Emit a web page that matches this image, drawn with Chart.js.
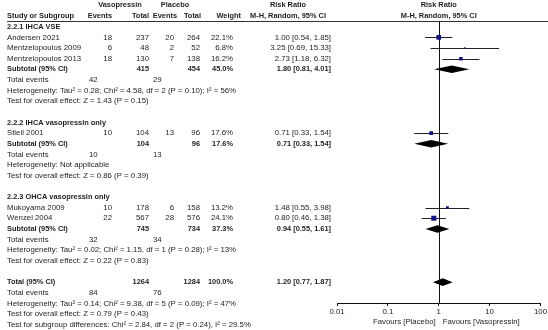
<!DOCTYPE html>
<html lang="en">
<head>
<meta charset="UTF-8">
<title>Vasopressin vs placebo - forest plot</title>
<script src="https://cdn.jsdelivr.net/npm/chart.js"></script>
<style>
    body { margin: 0; background: #fff; }
    canvas { display: block; }
</style>
</head>
<body>
<canvas id="forest" width="548" height="330"></canvas>
<script>
// --- data ---
const groupTitles = ['2.2.1 IHCA VSE', '2.2.2 IHCA vasopressin only', '2.2.3 OHCA vasopressin only'];

const studies     = ['Andersen 2021', 'Mentzelopoulos 2009', 'Mentzelopoulos 2013', 'Stiell 2001', 'Mukoyama 2009', 'Wenzel 2004'];
const studyGroup  = [0, 0, 0, 1, 2, 2];
const vasoEvents  = [18, 6, 18, 10, 10, 22];
const vasoTotal   = [237, 48, 130, 104, 178, 567];
const placEvents  = [20, 2, 7, 13, 6, 28];
const placTotal   = [264, 52, 138, 96, 158, 576];
const weights     = [22.1, 6.8, 16.2, 17.6, 13.2, 24.1];
const rr          = [1.00, 3.25, 2.73, 0.71, 1.48, 0.80];
const rrLow       = [0.54, 0.69, 1.18, 0.33, 0.55, 0.46];
const rrHigh      = [1.85, 15.33, 6.32, 1.54, 3.98, 1.38];

// subgroup subtotals
const subVasoTotal  = [415, 104, 745];
const subPlacTotal  = [454, 96, 734];
const subWeight     = [45.0, 17.6, 37.3];
const subRR         = [1.80, 0.71, 0.94];
const subLow        = [0.81, 0.33, 0.55];
const subHigh       = [4.01, 1.54, 1.61];
const subVasoEvents = [42, 10, 32];
const subPlacEvents = [29, 13, 34];
const subHetero = [
    'Heterogeneity: Tau² = 0.28; Chi² = 4.58, df = 2 (P = 0.10); I² = 56%',
    'Heterogeneity: Not applicable',
    'Heterogeneity: Tau² = 0.02; Chi² = 1.15, df = 1 (P = 0.28); I² = 13%'
];
const subOverall = [
    'Test for overall effect: Z = 1.43 (P = 0.15)',
    'Test for overall effect: Z = 0.86 (P = 0.39)',
    'Test for overall effect: Z = 0.22 (P = 0.83)'
];

// pooled total
const totalVaso = 1264, totalPlac = 1284, totalWeight = 100.0;
const totalRR = 1.20, totalLow = 0.77, totalHigh = 1.87;
const totalVasoEvents = 84, totalPlacEvents = 76;
const totalHetero  = 'Heterogeneity: Tau² = 0.14; Chi² = 9.38, df = 5 (P = 0.09); I² = 47%';
const totalOverall = 'Test for overall effect: Z = 0.79 (P = 0.43)';
const subgroupDiff = 'Test for subgroup differences: Chi² = 2.84, df = 2 (P = 0.24), I² = 29.5%';

const xTicks = [0.01, 0.1, 1, 10, 100];
const favourLeft = 'Favours [Placebo]';
const favourRight = 'Favours [Vasopressin]';

// --- layout of the table ---
const FONT = '"Liberation Sans", Arial, sans-serif';
const FS = 7.8;      // regular text
const FSB = 7.4;     // bold text
const TXT = '#1e1e1e';
const cols = {
    name: [7, 'left'], vE: [112, 'right'], vT: [149, 'right'], pE: [174, 'right'], pT: [200, 'right'],
    w: [233, 'right'], ci: [331, 'right'], teV: [89, 'left'], teP: [153, 'left']
};
const ciText = (m, l, h) => `${m.toFixed(2)} [${l.toFixed(2)}, ${h.toFixed(2)}]`;
const pct = v => v.toFixed(1) + '%';

const cells = [];   // {row, text, col, bold}
const put = (row, col, text, bold) => cells.push({ row, col, text: String(text), bold: !!bold });

const studyRow = [], subRow = [];
let r = 2;
groupTitles.forEach((title, g) => {
    put(r++, 'name', title, true);
    studies.forEach((s, i) => {
        if (studyGroup[i] !== g) return;
        studyRow[i] = r;
        put(r, 'name', s); put(r, 'vE', vasoEvents[i]); put(r, 'vT', vasoTotal[i]);
        put(r, 'pE', placEvents[i]); put(r, 'pT', placTotal[i]); put(r, 'w', pct(weights[i]));
        put(r, 'ci', ciText(rr[i], rrLow[i], rrHigh[i]));
        r++;
    });
    subRow[g] = r;
    put(r, 'name', 'Subtotal (95% CI)', true); put(r, 'vT', subVasoTotal[g], true);
    put(r, 'pT', subPlacTotal[g], true); put(r, 'w', pct(subWeight[g]), true);
    put(r, 'ci', ciText(subRR[g], subLow[g], subHigh[g]), true);
    r++;
    put(r, 'name', 'Total events'); put(r, 'teV', subVasoEvents[g]); put(r, 'teP', subPlacEvents[g]); r++;
    put(r++, 'name', subHetero[g]);
    put(r++, 'name', subOverall[g]);
    r++;
});
const totalRow = r;
put(r, 'name', 'Total (95% CI)', true); put(r, 'vT', totalVaso, true); put(r, 'pT', totalPlac, true);
put(r, 'w', pct(totalWeight), true); put(r, 'ci', ciText(totalRR, totalLow, totalHigh), true);
r++;
put(r, 'name', 'Total events'); put(r, 'teV', totalVasoEvents); put(r, 'teP', totalPlacEvents); r++;
put(r++, 'name', totalHetero);
put(r++, 'name', totalOverall);
put(r++, 'name', subgroupDiff);

const headers = [
    { row: 0, x: 120, align: 'center', text: 'Vasopressin' },
    { row: 0, x: 175, align: 'center', text: 'Placebo' },
    { row: 0, x: 288, align: 'center', text: 'Risk Ratio' },
    { row: 0, x: 'one', align: 'center', text: 'Risk Ratio' },
    { row: 1, x: 7, align: 'left', text: 'Study or Subgroup' },
    { row: 1, x: 112, align: 'right', text: 'Events' },
    { row: 1, x: 149, align: 'right', text: 'Total' },
    { row: 1, x: 177, align: 'right', text: 'Events' },
    { row: 1, x: 201, align: 'right', text: 'Total' },
    { row: 1, x: 241, align: 'right', text: 'Weight' },
    { row: 1, x: 288, align: 'center', text: 'M-H, Random, 95% CI' },
    { row: 1, x: 'one', align: 'center', text: 'M-H, Random, 95% CI' }
];

// draws the no-effect line, CI whiskers, diamonds and all table text
const forestPlugin = {
    id: 'forest',
    beforeDatasetsDraw(chart) {
        const { ctx, chartArea, scales: { x, y } } = chart;
        ctx.save();
        ctx.lineWidth = 1;

        // header rule
        ctx.strokeStyle = '#333';
        ctx.beginPath();
        ctx.moveTo(7, Math.round(chartArea.top) + 0.5);
        ctx.lineTo(chart.width, Math.round(chartArea.top) + 0.5);
        ctx.stroke();

        // line of no effect
        const x1 = Math.round(x.getPixelForValue(1)) + 0.5;
        ctx.strokeStyle = '#111';
        ctx.beginPath();
        ctx.moveTo(x1, chartArea.top);
        ctx.lineTo(x1, chartArea.bottom);
        ctx.stroke();

        // confidence intervals
        ctx.strokeStyle = '#222';
        studies.forEach((s, i) => {
            const py = Math.round(y.getPixelForValue(studyRow[i])) + 0.5;
            ctx.beginPath();
            ctx.moveTo(x.getPixelForValue(rrLow[i]), py);
            ctx.lineTo(x.getPixelForValue(rrHigh[i]), py);
            ctx.stroke();
        });

        // pooled diamonds
        const diamond = (row, m, l, h) => {
            const py = y.getPixelForValue(row);
            ctx.beginPath();
            ctx.moveTo(x.getPixelForValue(l), py);
            ctx.lineTo(x.getPixelForValue(m), py - 3.8);
            ctx.lineTo(x.getPixelForValue(h), py);
            ctx.lineTo(x.getPixelForValue(m), py + 3.8);
            ctx.closePath();
            ctx.fill();
        };
        ctx.fillStyle = '#000';
        subRR.forEach((m, g) => diamond(subRow[g], m, subLow[g], subHigh[g]));
        diamond(totalRow, totalRR, totalLow, totalHigh);
        ctx.restore();
    },
    afterDraw(chart) {
        const { ctx, chartArea, scales: { x, y } } = chart;
        const x1 = x.getPixelForValue(1);
        ctx.save();
        ctx.fillStyle = TXT;
        ctx.textBaseline = 'middle';

        ctx.font = `bold ${FSB}px ${FONT}`;
        headers.forEach(hd => {
            ctx.textAlign = hd.align;
            ctx.fillText(hd.text, hd.x === 'one' ? x1 : hd.x, y.getPixelForValue(hd.row));
        });

        cells.forEach(c => {
            const [cx, align] = cols[c.col];
            ctx.font = c.bold ? `bold ${FSB}px ${FONT}` : `${FS}px ${FONT}`;
            ctx.textAlign = align;
            ctx.fillText(c.text, cx, y.getPixelForValue(c.row));
        });

        ctx.font = `${FS}px ${FONT}`;
        const fy = chartArea.bottom + 19;
        ctx.textAlign = 'right';
        ctx.fillText(favourLeft, x1 - 3, fy);
        ctx.textAlign = 'left';
        ctx.fillText(favourRight, x1 + 4, fy);
        ctx.restore();
    }
};

Chart.defaults.font.family = FONT;
Chart.defaults.font.size = FS;
Chart.defaults.color = TXT;

new Chart(document.getElementById('forest'), {
    type: 'scatter',
    data: {
        datasets: [{
            label: 'Study risk ratio',
            data: studies.map((s, i) => ({ x: rr[i], y: studyRow[i] })),
            pointStyle: 'rect',
            pointRadius: weights.map(w => w * 0.15),
            backgroundColor: '#10108c',
            borderWidth: 0
        }]
    },
    options: {
        responsive: false,
        animation: false,
        devicePixelRatio: 1,
        layout: { padding: { left: 337, right: 7, top: 21, bottom: 0 } },
        plugins: { legend: { display: false }, tooltip: { enabled: false } },
        scales: {
            x: {
                type: 'logarithmic',
                min: 0.01,
                max: 100,
                afterBuildTicks: s => { s.ticks = xTicks.map(v => ({ value: v })); },
                afterFit: s => { s.height = 27; },
                ticks: { callback: v => String(v), autoSkip: false, maxRotation: 0, padding: 1, color: '#222' },
                grid: { drawOnChartArea: false, drawTicks: true, tickLength: 3, color: '#111' },
                border: { display: true, color: '#111' }
            },
            y: {
                type: 'linear',
                reverse: true,
                min: 1.46,
                max: 27.96,
                display: false
            }
        }
    },
    plugins: [forestPlugin]
});
</script>
</body>
</html>
